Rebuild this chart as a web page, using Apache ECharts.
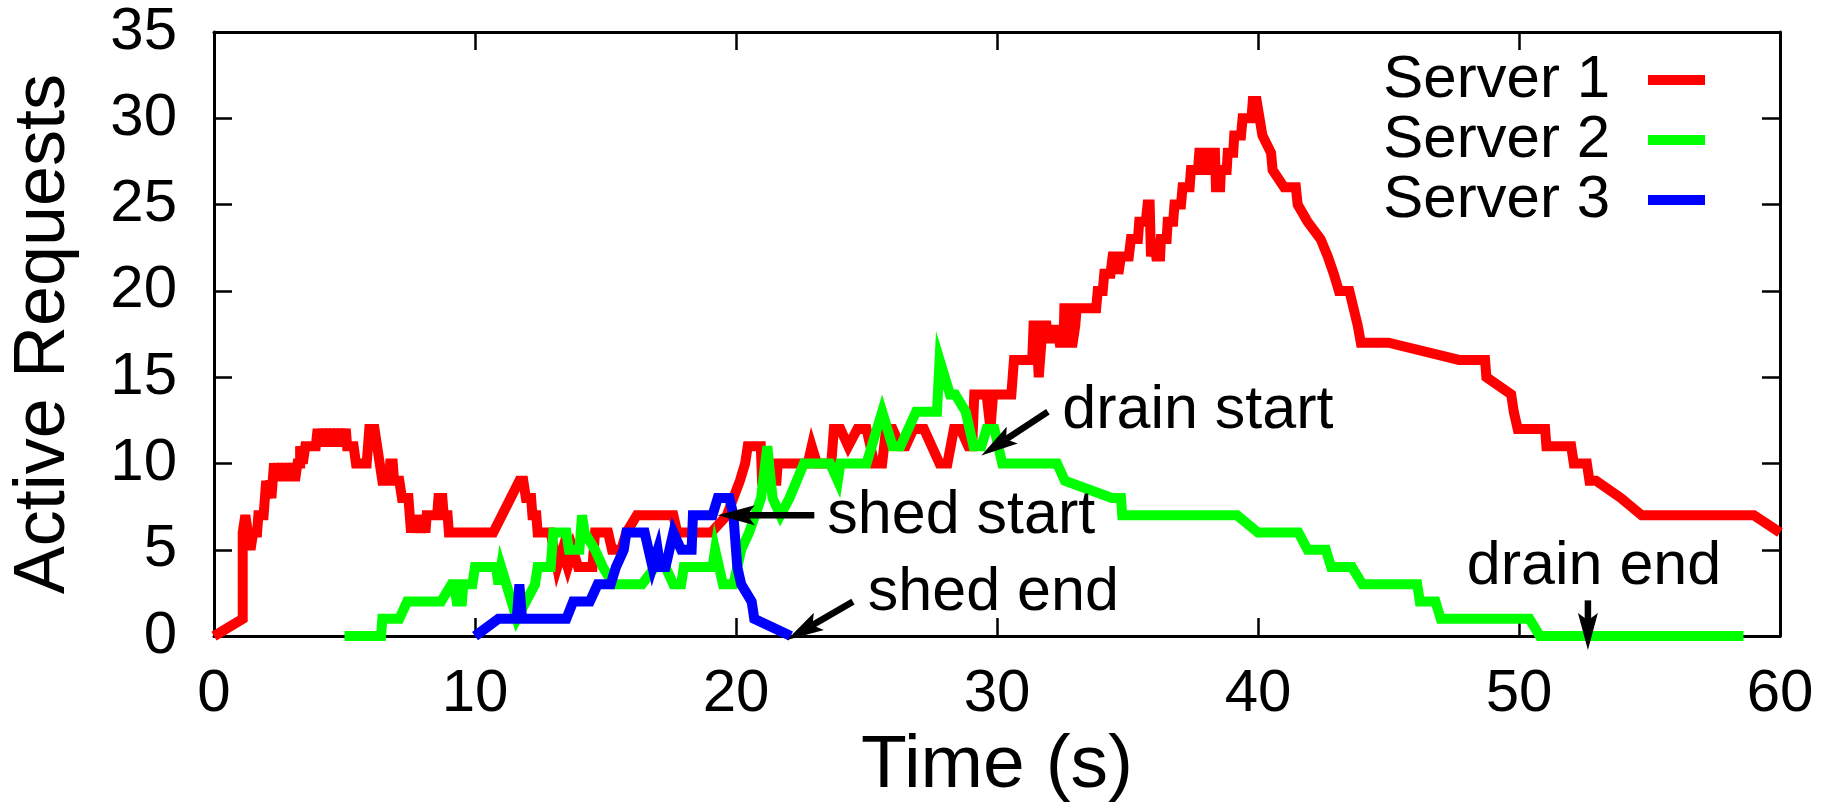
<!DOCTYPE html>
<html>
<head>
<meta charset="utf-8">
<script src="https://cdn.jsdelivr.net/npm/echarts@6/dist/echarts.min.js"></script>
<style>
html,body{margin:0;padding:0;background:#fff;}
#chart{width:1837px;height:809px;}
</style>
</head>
<body>
<div id="chart"></div>
<script>
// ---------------- data ----------------
const seriesNames = ['Server 1', 'Server 2', 'Server 3'];
const xTicks = [0, 10, 20, 30, 40, 50, 60];
const yTicks = [0, 5, 10, 15, 20, 25, 30, 35];

const server1 = [[0,0],[1.1,1],[1.1,6],[1.2,7],[1.4,5],[1.5,6],[1.65,6],[1.7,7],[1.9,7],[1.95,8],[2.0,9],[2.05,8],[2.15,9],[2.2,8],[2.3,10],[2.35,9],[2.45,10],[2.5,9],[2.6,10],[2.65,9],[2.75,10],[2.8,9],[2.9,10],[2.95,9],[3.05,10],[3.1,9],[3.2,10],[3.3,10],[3.3,11],[3.4,10],[3.5,11],[3.9,11],[3.97,12],[4.05,11],[4.15,12],[4.2,11],[4.3,12],[4.35,11],[4.45,12],[4.5,11],[4.6,12],[4.65,11],[4.75,12],[4.8,11],[4.9,12],[4.95,11],[5.05,12],[5.1,11],[5.35,11],[5.44,10],[5.85,10],[5.95,12],[6.15,12],[6.25,11],[6.35,10],[6.45,9],[6.7,9],[6.75,10],[6.85,10],[6.9,9],[7.1,9],[7.2,8],[7.45,8],[7.55,6],[7.6,7],[7.65,6],[7.75,7],[7.8,6],[7.9,7],[7.95,6],[8.05,7],[8.1,6],[8.15,7],[8.55,7],[8.6,8],[8.75,8],[8.8,7],[8.95,7],[9.0,6],[10.7,6],[11.7,9],[11.85,9],[11.95,8],[12.15,8],[12.2,7],[12.35,7],[12.4,6],[12.9,6],[13.15,4],[13.35,5],[13.55,4],[13.75,5],[13.95,4],[14.5,4],[14.6,6],[15.1,6],[15.25,5],[15.6,5],[15.8,6],[16.2,7],[17.6,7],[17.75,6],[19.05,6],[19.65,7],[19.9,8],[20.15,9],[20.35,10],[20.45,11],[20.95,11],[21.0,9],[21.55,9],[21.6,10],[22.75,10],[22.9,11],[23.1,10],[23.65,10],[23.75,12],[24.0,12],[24.3,11],[24.65,12],[25.0,12],[25.3,10],[25.6,10],[25.75,12],[26.0,12],[26.3,11],[26.5,11],[26.8,12],[27.2,12],[27.8,10],[28.1,10],[28.35,12],[28.6,12],[28.9,11],[29.05,11],[29.13,14],[29.6,14],[29.75,12],[29.85,14],[30.55,14],[30.6,15],[30.65,16],[31.35,16],[31.4,18],[31.5,18],[31.6,15],[31.75,18],[31.9,18],[32.0,17],[32.1,18],[32.2,17],[32.3,18],[32.4,17],[32.55,17],[32.58,19],[32.7,19],[32.77,17],[32.9,17],[33.0,18],[33.05,19],[33.8,19],[33.86,20],[34.05,20],[34.11,21],[34.35,21],[34.43,22],[34.6,22],[34.65,21],[34.75,22],[35.05,22],[35.13,23],[35.4,23],[35.45,24],[35.7,24],[35.77,25],[35.85,25],[35.9,22],[36.0,23],[36.1,22],[36.25,22],[36.28,23],[36.5,23],[36.54,24],[36.75,24],[36.8,25],[37.05,25],[37.11,26],[37.38,26],[37.43,27],[37.7,27],[37.75,28],[37.95,28],[38.0,27],[38.15,27],[38.2,28],[38.35,28],[38.39,26],[38.55,26],[38.58,27],[38.8,27],[38.84,28],[39.05,28],[39.09,29],[39.35,29],[39.41,30],[39.75,30],[39.8,31],[39.95,31],[40.06,30],[40.17,29],[40.5,28],[40.56,27],[41.0,26],[41.45,26],[41.52,25],[41.9,24],[42.4,23],[42.67,22],[42.9,21],[43.1,20],[43.5,20],[43.82,18],[43.94,17],[45.0,17],[47.7,16],[48.7,16],[48.75,15],[49.7,14],[49.8,13],[49.95,12],[51.0,12],[51.05,11],[52.0,11],[52.1,10],[52.6,10],[52.7,9],[52.95,9],[53.9,8],[54.7,7],[59.0,7],[60,6]];

const server2 = [[5.0,0],[6.4,0],[6.45,1],[7.1,1],[7.4,2],[8.7,2],[9.1,3],[9.2,3],[9.3,2],[9.5,2],[9.55,3],[9.9,3],[10.0,4],[10.8,4],[10.9,3],[11.0,4],[11.2,3],[11.6,1],[12.3,3],[12.4,4],[12.9,4],[13.0,6],[13.5,6],[13.6,5],[14.0,5],[14.1,7],[14.2,6],[14.6,5],[14.9,4],[15.3,3],[16.4,3],[16.9,4],[17.3,4],[17.6,3],[17.9,3],[18.0,4],[19.1,4],[19.2,5],[19.5,3],[19.9,3],[20.2,5],[20.5,6],[20.96,8],[21.2,11],[21.4,8],[21.7,7],[22.05,8],[22.6,10],[23.6,10],[23.9,9],[24.0,10],[25.0,10],[25.6,13],[26.0,11],[26.3,11],[26.9,13],[27.7,13],[27.8,16],[28.2,14],[28.4,14],[28.8,13],[29.1,11],[29.4,11],[29.6,12],[29.9,12],[30.2,10],[32.3,10],[32.6,9],[34.4,8],[34.75,8],[34.8,7],[39.2,7],[40.0,6],[41.55,6],[41.9,5],[42.6,5],[42.8,4],[43.6,4],[44.0,3],[46.1,3],[46.2,2],[46.8,2],[47.0,1],[50.4,1],[50.8,0],[58.6,0]];

const server3 = [[10.0,0],[10.9,1],[11.6,1],[11.7,3],[11.8,1],[13.5,1],[13.76,2],[14.4,2],[14.7,3],[15.2,3],[15.4,4],[15.7,5],[15.8,6],[16.5,6],[16.8,4],[17.0,5],[17.1,4],[17.3,4],[17.6,6],[17.9,5],[18.3,5],[18.35,7],[19.1,7],[19.3,8],[19.75,8],[19.9,7],[20.05,4],[20.2,3],[20.6,2],[20.7,1],[22.1,0]];

// annotations: label text, arrow tail [t, v], arrow tip [t, v], label anchor [t, v]
const annotationLabels = ['drain start', 'shed start', 'shed end', 'drain end'];
const arrowTails = [[31.95, 13.0], [23.0, 7.0], [24.48, 2.0], [52.64, 2.07]];
const arrowTips  = [[29.4, 10.46], [19.3, 7.0], [21.95, -0.23], [52.64, -0.8]];
const labelAnchors = [[32.5, 13.05], [23.5, 6.95], [25.05, 2.47], [48.0, 3.97]];

// ---------------- chart ----------------
const FONT = '"Liberation Sans", Arial, Helvetica, sans-serif';
const colors = ['#ff0000', '#00ff00', '#0000ff'];
const chart = echarts.init(document.getElementById('chart'), null, {renderer: 'canvas'});

const annotationData = annotationLabels.map((t, i) => [arrowTails[i][0], arrowTails[i][1], arrowTips[i][0], arrowTips[i][1], labelAnchors[i][0], labelAnchors[i][1]]);

function axisCommon(show) {
  return {
    axisLine: {show: true, onZero: false, lineStyle: {color: '#000', width: 3}},
    axisTick: {show: true, inside: true, length: 18, lineStyle: {color: '#000', width: 2.5}},
    splitLine: {show: false},
    axisLabel: {show: show}
  };
}

const xMin = xTicks[0], xMax = xTicks[xTicks.length - 1], xStep = xTicks[1] - xTicks[0];
const yMin = yTicks[0], yMax = yTicks[yTicks.length - 1], yStep = yTicks[1] - yTicks[0];

const option = {
  animation: false,
  backgroundColor: '#fff',
  textStyle: {fontFamily: FONT},
  grid: {left: 213, right: 57, top: 32, bottom: 168, containLabel: false},
  legend: {
    orient: 'vertical', right: 132, top: 50, align: 'right', padding: 0,
    itemWidth: 57, itemHeight: 10, itemGap: 0, icon: 'rect', selectedMode: false,
    data: seriesNames,
    textStyle: {fontSize: 60, fontFamily: FONT, color: '#000', lineHeight: 59, padding: [0, 33, 0, 0]}
  },
  xAxis: [
    Object.assign({
      type: 'value', position: 'bottom', min: xMin, max: xMax, interval: xStep,
      name: 'Time (s)', nameLocation: 'middle', nameGap: 88,
      nameTextStyle: {fontSize: 75, fontFamily: FONT, color: '#000'}
    }, axisCommon(true), {axisLabel: {show: true, fontSize: 60, fontFamily: FONT, color: '#000', margin: 28}}),
    Object.assign({type: 'value', position: 'top', min: xMin, max: xMax, interval: xStep}, axisCommon(false))
  ],
  yAxis: [
    Object.assign({
      type: 'value', position: 'left', min: yMin, max: yMax, interval: yStep,
      name: 'Active Requests', nameLocation: 'middle', nameGap: 134, nameRotate: 90,
      nameTextStyle: {fontSize: 72, fontFamily: FONT, color: '#000'}
    }, axisCommon(true), {axisLabel: {show: true, fontSize: 60, fontFamily: FONT, color: '#000', margin: 37}}),
    Object.assign({type: 'value', position: 'right', min: yMin, max: yMax, interval: yStep}, axisCommon(false))
  ],
  series: [
    ...[server1, server2, server3].map((d, i) => ({
      name: seriesNames[i], type: 'line', data: d, xAxisIndex: 0, yAxisIndex: 0,
      showSymbol: false, symbol: 'none', clip: true,
      itemStyle: {color: colors[i]},
      lineStyle: {color: colors[i], width: 10, join: 'miter', miterLimit: 6, cap: 'butt'},
      emphasis: {disabled: true}, silent: true
    })),
    {
      name: 'annotations', type: 'custom', data: annotationData, xAxisIndex: 0, yAxisIndex: 0,
      silent: true, clip: false, z: 10,
      renderItem: function (params, api) {
        const p1 = api.coord([api.value(0), api.value(1)]);
        const p2 = api.coord([api.value(2), api.value(3)]);
        const pl = api.coord([api.value(4), api.value(5)]);
        const dx = p2[0] - p1[0], dy = p2[1] - p1[1];
        const len = Math.sqrt(dx * dx + dy * dy) || 1;
        const ux = dx / len, uy = dy / len, nx = -uy, ny = ux;
        const L = 37, W = 10;
        const base = [p2[0] - L * ux, p2[1] - L * uy];
        const notch = [p2[0] - 0.8 * L * ux, p2[1] - 0.8 * L * uy];
        return {
          type: 'group',
          children: [
            {type: 'line', shape: {x1: p1[0], y1: p1[1], x2: notch[0], y2: notch[1]},
             style: {stroke: '#000', lineWidth: 6.5}},
            {type: 'polygon', shape: {points: [p2, [base[0] + W * nx, base[1] + W * ny], notch, [base[0] - W * nx, base[1] - W * ny]]},
             style: {fill: '#000'}},
            {type: 'text', x: pl[0], y: pl[1],
             style: {text: annotationLabels[params.dataIndex], fill: '#000', font: '61px ' + FONT, align: 'left', verticalAlign: 'middle'}}
          ]
        };
      }
    }
  ]
};
chart.setOption(option);
</script>
</body>
</html>
